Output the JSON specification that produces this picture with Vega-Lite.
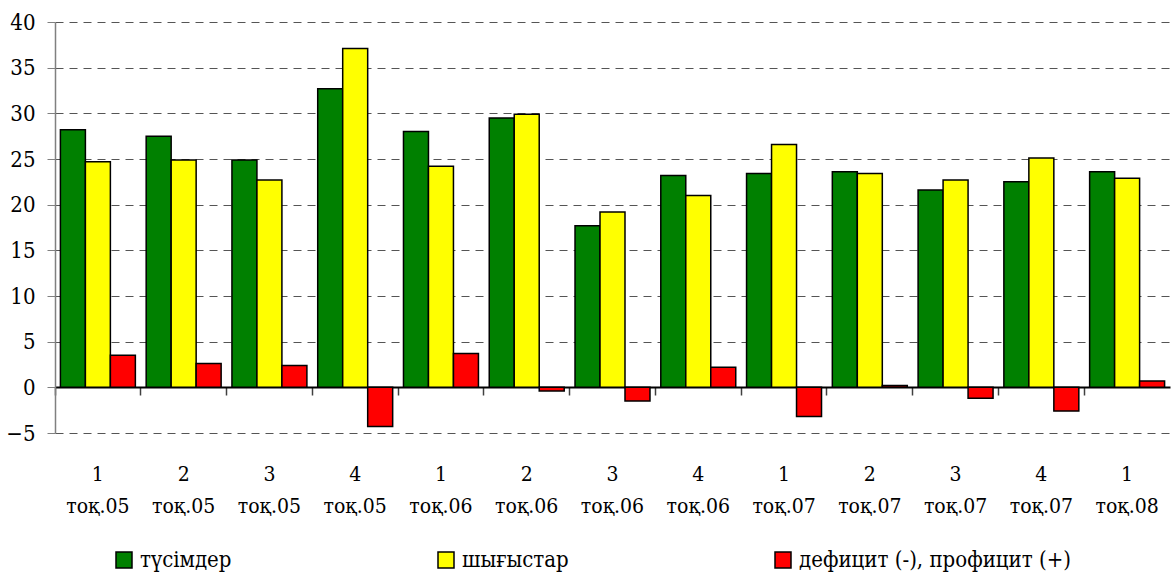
{
  "$schema": "https://vega.github.io/schema/vega-lite/v6.json",
  "width": 1115,
  "height": 411,
  "autosize": "none",
  "padding": {"left": 55, "top": 22, "right": 6, "bottom": 141},
  "background": "white",
  "config": {
    "font": "DejaVu Serif Condensed",
    "view": {"stroke": null},
    "axis": {"labelColor": "black", "labelFont": "DejaVu Serif Condensed"},
    "legend": {"labelFont": "DejaVu Serif Condensed"}
  },
  "data": {
    "values": [
      {"q": "1|тоқ.05", "s": "түсімдер", "v": 28.2},
      {"q": "1|тоқ.05", "s": "шығыстар", "v": 24.7},
      {"q": "1|тоқ.05", "s": "дефицит (-), профицит (+)", "v": 3.5},
      {"q": "2|тоқ.05", "s": "түсімдер", "v": 27.5},
      {"q": "2|тоқ.05", "s": "шығыстар", "v": 24.9},
      {"q": "2|тоқ.05", "s": "дефицит (-), профицит (+)", "v": 2.6},
      {"q": "3|тоқ.05", "s": "түсімдер", "v": 24.9},
      {"q": "3|тоқ.05", "s": "шығыстар", "v": 22.7},
      {"q": "3|тоқ.05", "s": "дефицит (-), профицит (+)", "v": 2.4},
      {"q": "4|тоқ.05", "s": "түсімдер", "v": 32.7},
      {"q": "4|тоқ.05", "s": "шығыстар", "v": 37.1},
      {"q": "4|тоқ.05", "s": "дефицит (-), профицит (+)", "v": -4.3},
      {"q": "1|тоқ.06", "s": "түсімдер", "v": 28.0},
      {"q": "1|тоқ.06", "s": "шығыстар", "v": 24.2},
      {"q": "1|тоқ.06", "s": "дефицит (-), профицит (+)", "v": 3.7},
      {"q": "2|тоқ.06", "s": "түсімдер", "v": 29.5},
      {"q": "2|тоқ.06", "s": "шығыстар", "v": 29.9},
      {"q": "2|тоқ.06", "s": "дефицит (-), профицит (+)", "v": -0.4},
      {"q": "3|тоқ.06", "s": "түсімдер", "v": 17.7},
      {"q": "3|тоқ.06", "s": "шығыстар", "v": 19.2},
      {"q": "3|тоқ.06", "s": "дефицит (-), профицит (+)", "v": -1.5},
      {"q": "4|тоқ.06", "s": "түсімдер", "v": 23.2},
      {"q": "4|тоқ.06", "s": "шығыстар", "v": 21.0},
      {"q": "4|тоқ.06", "s": "дефицит (-), профицит (+)", "v": 2.2},
      {"q": "1|тоқ.07", "s": "түсімдер", "v": 23.4},
      {"q": "1|тоқ.07", "s": "шығыстар", "v": 26.6},
      {"q": "1|тоқ.07", "s": "дефицит (-), профицит (+)", "v": -3.2},
      {"q": "2|тоқ.07", "s": "түсімдер", "v": 23.6},
      {"q": "2|тоқ.07", "s": "шығыстар", "v": 23.4},
      {"q": "2|тоқ.07", "s": "дефицит (-), профицит (+)", "v": 0.2},
      {"q": "3|тоқ.07", "s": "түсімдер", "v": 21.6},
      {"q": "3|тоқ.07", "s": "шығыстар", "v": 22.7},
      {"q": "3|тоқ.07", "s": "дефицит (-), профицит (+)", "v": -1.2},
      {"q": "4|тоқ.07", "s": "түсімдер", "v": 22.5},
      {"q": "4|тоқ.07", "s": "шығыстар", "v": 25.1},
      {"q": "4|тоқ.07", "s": "дефицит (-), профицит (+)", "v": -2.6},
      {"q": "1|тоқ.08", "s": "түсімдер", "v": 23.6},
      {"q": "1|тоқ.08", "s": "шығыстар", "v": 22.9},
      {"q": "1|тоқ.08", "s": "дефицит (-), профицит (+)", "v": 0.7}
    ]
  },
  "resolve": {"axis": {"x": "independent"}},
  "layer": [
    {
      "mark": {"type": "bar", "stroke": "black", "strokeWidth": 1.5},
      "encoding": {
        "x": {
          "field": "q",
          "type": "nominal",
          "sort": null,
          "scale": {"paddingInner": 0.126, "paddingOuter": 0.063},
          "axis": {
            "orient": "bottom",
            "title": null,
            "domain": false,
            "ticks": false,
            "grid": false,
            "labelAngle": 0,
            "labelFontSize": 21,
            "labelLineHeight": 32,
            "labelPadding": 30,
            "labelExpr": "split(datum.label, '|')"
          }
        },
        "xOffset": {
          "field": "s",
          "type": "nominal",
          "sort": ["түсімдер", "шығыстар", "дефицит (-), профицит (+)"],
          "scale": {"paddingInner": 0, "paddingOuter": 0}
        },
        "y": {
          "field": "v",
          "type": "quantitative",
          "scale": {"domain": [-5, 40], "nice": false, "zero": false},
          "axis": {
            "title": null,
            "values": [-5, 0, 5, 10, 15, 20, 25, 30, 35, 40],
            "labelFontSize": 22,
            "labelPadding": 12,
            "tickSize": 8,
            "tickColor": "#808080",
            "domainColor": "#808080",
            "domainWidth": 1.5,
            "grid": true,
            "gridColor": "#555555",
            "gridDash": [8, 6],
            "gridWidth": 1
          }
        },
        "color": {
          "field": "s",
          "type": "nominal",
          "scale": {
            "domain": ["түсімдер", "шығыстар", "дефицит (-), профицит (+)"],
            "range": ["#008000", "#FFFF00", "#FF0000"]
          },
          "legend": {
            "title": null,
            "orient": "none",
            "legendX": 58,
            "legendY": 527,
            "direction": "horizontal",
            "columns": 3,
            "columnPadding": 203,
            "symbolType": "square",
            "symbolSize": 256,
            "symbolStrokeColor": "black",
            "symbolStrokeWidth": 1.5,
            "symbolOpacity": 1,
            "labelFontSize": 22,
            "labelColor": "black",
            "labelOffset": 5,
            "labelLimit": 400
          }
        }
      }
    },
    {
      "mark": {"type": "point", "opacity": 0},
      "encoding": {
        "x": {
          "field": "q",
          "type": "nominal",
          "sort": null,
          "axis": {
            "orient": "bottom",
            "title": null,
            "labels": false,
            "grid": false,
            "offset": -46,
            "bandPosition": -0.072,
            "domain": true,
            "domainColor": "black",
            "domainWidth": 2,
            "ticks": true,
            "tickColor": "#404040",
            "tickSize": 8,
            "tickWidth": 1.5
          }
        },
        "y": {"datum": 0, "type": "quantitative"}
      }
    }
  ]
}
